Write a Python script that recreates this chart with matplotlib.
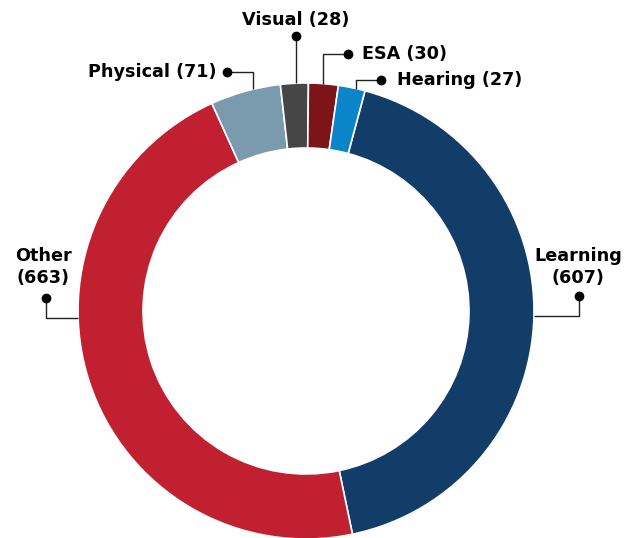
import numpy as np
import matplotlib
matplotlib.use("Agg")
import matplotlib.pyplot as plt

plt.rcParams['font.family'] = 'DejaVu Sans'

# data
categories = ['Learning', 'Other', 'Physical', 'Visual', 'ESA', 'Hearing']
counts = [607, 663, 71, 28, 30, 27]
colors = ['#123d69', '#c0202f', '#7a9aae', '#464646', '#7d1418', '#0a85c9']

# label layout (image pixel coords, y down): text pos, dot pos, where the leader meets the ring
W, H = 637, 538
CX, CY, R = 306, 311, 228
label_cfg = {
    'Learning': dict(text=(578, 267), ha='center', dot=(579, 296), kind='side', anchor_deg=-1.3),
    'Other':    dict(text=(43, 267), ha='center', dot=(46, 298), kind='side', anchor_deg=181.8),
    'Physical': dict(text=(217, 72), ha='right', dot=(227, 72), kind='top', anchor_deg=103.4),
    'Visual':   dict(text=(296, 20), ha='center', dot=(296, 36), kind='top', anchor_deg=92.5),
    'ESA':      dict(text=(362, 54), ha='left', dot=(348, 54), kind='top', anchor_deg=85.7),
    'Hearing':  dict(text=(397, 80), ha='left', dot=(381, 80), kind='top', anchor_deg=77.3),
}

fig = plt.figure(figsize=(W / 100, H / 100), dpi=100)
ax = fig.add_axes([0, 0, 1, 1])

wedges, _ = ax.pie(counts, colors=colors, startangle=75, counterclock=False,
                   center=(CX, H - CY), radius=R,
                   wedgeprops=dict(width=65, edgecolor='white', linewidth=1.2))

# pie() resets the limits, so set them afterwards
ax.set_xlim(0, W)
ax.set_ylim(0, H)
ax.set_aspect('equal')
ax.axis('off')

for wedge, name, n in zip(wedges, categories, counts):
    cfg = label_cfg[name]
    dx, dy = cfg['dot'][0], H - cfg['dot'][1]
    a = np.deg2rad(cfg['anchor_deg'])
    ax_, ay_ = CX + R * np.cos(a), (H - CY) + R * np.sin(a)
    if cfg['kind'] == 'top':
        xs, ys = [ax_, ax_, dx], [ay_, dy, dy]
        text = f'{name} ({n})'
    else:
        xs, ys = [ax_, dx, dx], [ay_, ay_, dy]
        text = f'{name}\n({n})'
    ax.plot(xs, ys, color='#222222', linewidth=1, solid_capstyle='butt')
    ax.plot(dx, dy, 'o', color='black', markersize=6)
    ax.text(cfg['text'][0], H - cfg['text'][1], text, ha=cfg['ha'], va='center',
            fontsize=12.7, fontweight='bold', color='black', linespacing=1.3)

fig.savefig('out.png', dpi=100)
